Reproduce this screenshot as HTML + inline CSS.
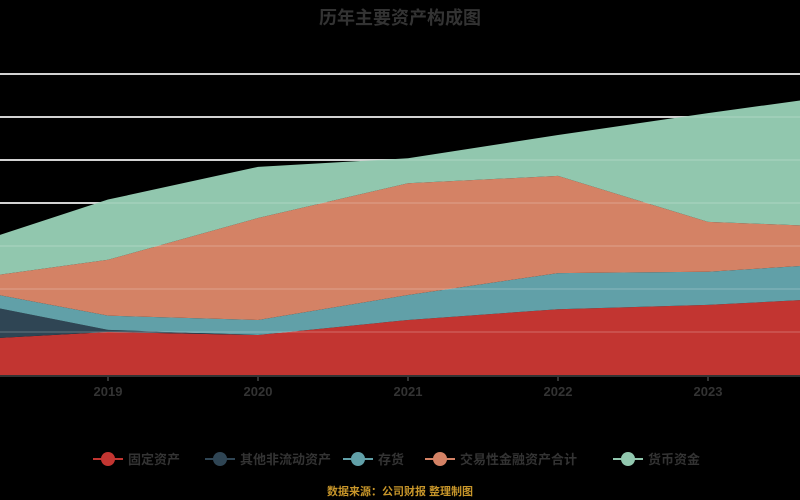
<!DOCTYPE html>
<html><head><meta charset="utf-8"><style>
html,body{margin:0;padding:0;background:#000;width:800px;height:500px;overflow:hidden}
svg{display:block;font-family:"Liberation Sans","Noto Sans CJK SC",sans-serif}
</style></head><body>
<svg id="chart" width="800" height="500">
<text x="400" y="24" text-anchor="middle" font-size="18" font-weight="bold" fill="#333">历年主要资产构成图</text>
<g id="gridbg"></g>
<g id="areas"></g>
<g id="grid"></g>
<g id="xaxis"></g>
<g id="legend"></g>
<text x="400" y="495" text-anchor="middle" font-size="11" font-weight="bold" fill="#c8962a">数据来源：公司财报 整理制图</text>
</svg>
<script>
const categories=["2018","2019","2020","2021","2022","2023","2024"];
const seriesNames=["固定资产","其他非流动资产","存货","交易性金融资产合计","货币资金"];
const redVals=[81,100,93,128,153,163,181];
const navyVals=[93,5,0,0,0,0,0];
const tealVals=[30,33,35,58,84,77,81];
const salmonVals=[16,130,237,260,226,116,81];
const greenVals=[74,140,119,58,95,253,314];
const yTicks=[0,100,200,300,400,500,600,700];
const tickLabels=["2019","2020","2021","2022","2023"];
const colors=["#c23531","#2f4554","#61a0a8","#d48265","#91c7ae"];
const NS="http://www.w3.org/2000/svg";
const x=i=>-42+i*150;
const y=v=>375-v*0.43;
const all=[redVals,navyVals,tealVals,salmonVals,greenVals];
const areas=document.getElementById('areas');
let base=categories.map(()=>0);
all.forEach((vals,s)=>{
  const top=base.map((b,i)=>b+vals[i]);
  let d="M"+categories.map((c,i)=>x(i)+","+y(top[i])).join(" L");
  for(let i=categories.length-1;i>=0;i--) d+=" L"+x(i)+","+y(base[i]);
  d+="Z";
  const p=document.createElementNS(NS,'path');
  p.setAttribute('d',d);p.setAttribute('fill',colors[s]);
  
  
  areas.appendChild(p);
  base=top;
});
const gridbg=document.getElementById('gridbg');
const grid=document.getElementById('grid');
yTicks.slice(1).forEach(t=>{
  const l=document.createElementNS(NS,'line');
  l.setAttribute('x1',0);l.setAttribute('x2',800);
  l.setAttribute('y1',y(t));l.setAttribute('y2',y(t));
  l.setAttribute('stroke','#ccc');l.setAttribute('stroke-width','2');
  
  
  gridbg.appendChild(l);
  const l2=document.createElementNS(NS,'line');
  l2.setAttribute('x1',0);l2.setAttribute('x2',800);
  l2.setAttribute('y1',y(t));l2.setAttribute('y2',y(t));
  l2.setAttribute('stroke','rgba(255,255,255,0.18)');l2.setAttribute('stroke-width','1.5');
  
  
  grid.appendChild(l2);
});
const xa=document.getElementById('xaxis');
const al=document.createElementNS(NS,'line');
al.setAttribute('x1',0);al.setAttribute('x2',800);al.setAttribute('y1',376);al.setAttribute('y2',376);
al.setAttribute('stroke','#333');al.setAttribute('stroke-width','2');


xa.appendChild(al);
tickLabels.forEach(lab=>{
  const i=categories.indexOf(lab);
  const tk=document.createElementNS(NS,'line');
  tk.setAttribute('x1',x(i));tk.setAttribute('x2',x(i));tk.setAttribute('y1',376);tk.setAttribute('y2',381);
  tk.setAttribute('stroke','#333');tk.setAttribute('stroke-width','2');
  
  
  xa.appendChild(tk);
  const t=document.createElementNS(NS,'text');
  t.setAttribute('x',x(i));t.setAttribute('y',396);t.setAttribute('text-anchor','middle');
  t.setAttribute('font-size','13');t.setAttribute('font-weight','bold');t.setAttribute('fill','#333');
  t.textContent=lab;
  
  
  xa.appendChild(t);
});
const lg=document.getElementById('legend');
const lx=[108,220,358,440,628];
seriesNames.forEach((n,s)=>{
  const g=document.createElementNS(NS,'g');
  
  
  g.innerHTML=`<line x1="${lx[s]-15}" x2="${lx[s]+15}" y1="459" y2="459" stroke="${colors[s]}" stroke-width="2"/><circle cx="${lx[s]}" cy="459" r="7" fill="${colors[s]}"/><text x="${lx[s]+20}" y="464" font-size="13" font-weight="bold" fill="#333">${n}</text>`;
  lg.appendChild(g);
});
</script>
</body></html>
